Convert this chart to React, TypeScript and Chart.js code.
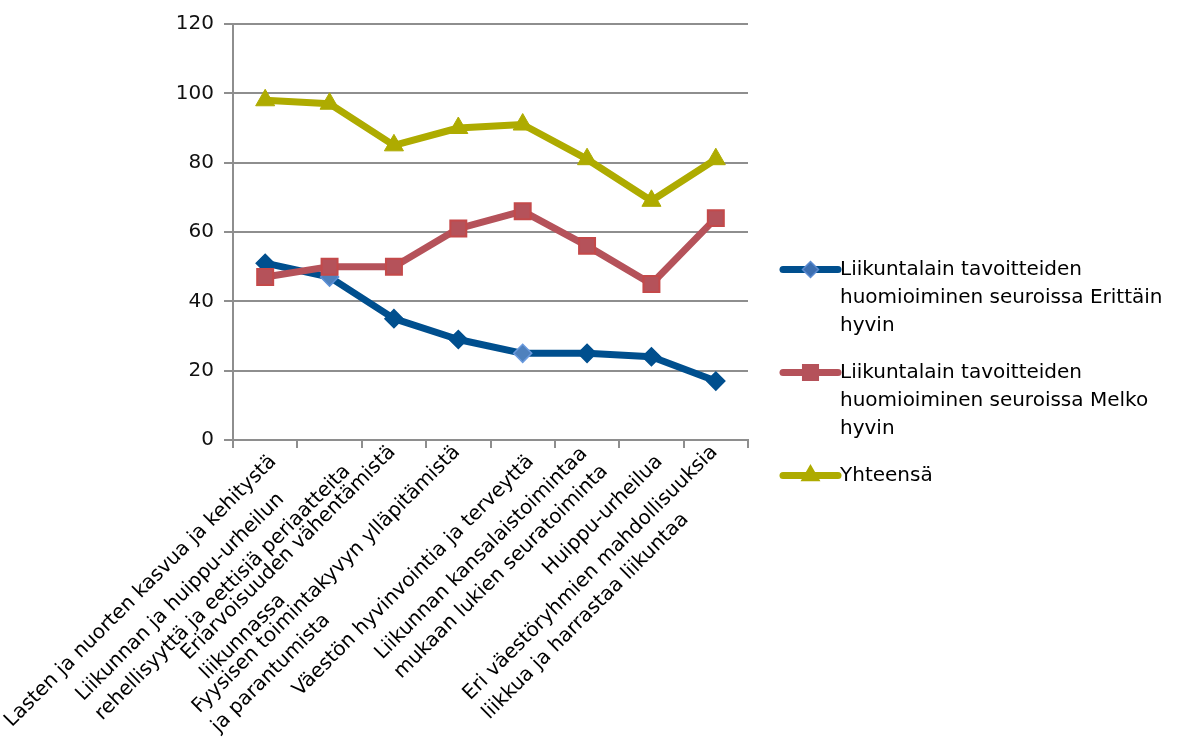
import React, { useEffect, useRef } from 'react';
import { Chart, registerables } from 'chart.js';

Chart.register(...registerables);

// Category labels, already split into the lines they are drawn on
const categories: string[][] = [
  ['Lasten ja nuorten kasvua ja kehitystä'],
  ['Liikunnan ja huippu-urheilun', 'rehellisyyttä ja eettisiä periaatteita'],
  ['Eriarvoisuuden vähentämistä', 'liikunnassa'],
  ['Fyysisen toimintakyvyn ylläpitämistä', 'ja parantumista'],
  ['Väestön hyvinvointia ja terveyttä'],
  ['Liikunnan kansalaistoimintaa', 'mukaan lukien seuratoiminta'],
  ['Huippu-urheilua'],
  ['Eri väestöryhmien mahdollisuuksia', 'liikkua ja harrastaa liikuntaa'],
];

const seriesNames = [
  'Liikuntalain tavoitteiden huomioiminen seuroissa Erittäin hyvin',
  'Liikuntalain tavoitteiden huomioiminen seuroissa Melko hyvin',
  'Yhteensä',
];

const erittainHyvin = [51, 47, 35, 29, 25, 25, 24, 17];
const melkoHyvin = [47, 50, 50, 61, 66, 56, 45, 64];
const yhteensa = [98, 97, 85, 90, 91, 81, 69, 81];

const yMin = 0;
const yMax = 120;
const yStep = 20;

const FONT = '"DejaVu Sans", "Liberation Sans", sans-serif';
const AXIS_GREY = '#8e8e8e';
const BLUE = '#004f8e';
const BLUE_LIGHT = '#4f81bd';
const RED = '#b5525a';
const RED_EDGE = '#c4494a';
const OLIVE = '#aeab00';

type Marker = 'rectRot' | 'rect' | 'triangle';

function drawMarker(
  ctx: CanvasRenderingContext2D,
  style: Marker,
  x: number,
  y: number,
  r: number,
  fill: string,
  stroke: string,
  lw: number
) {
  ctx.beginPath();
  if (style === 'rectRot') {
    ctx.moveTo(x - r, y);
    ctx.lineTo(x, y - r);
    ctx.lineTo(x + r, y);
    ctx.lineTo(x, y + r);
    ctx.closePath();
  } else if (style === 'rect') {
    const h = r * Math.SQRT1_2;
    ctx.rect(x - h, y - h, 2 * h, 2 * h);
  } else {
    ctx.moveTo(x, y - r);
    ctx.lineTo(x + r * Math.sin((2 * Math.PI) / 3), y - r * Math.cos((2 * Math.PI) / 3));
    ctx.lineTo(x + r * Math.sin((4 * Math.PI) / 3), y - r * Math.cos((4 * Math.PI) / 3));
    ctx.closePath();
  }
  ctx.fillStyle = fill;
  ctx.fill();
  ctx.lineWidth = lw;
  ctx.strokeStyle = stroke;
  ctx.stroke();
}

function wrapText(ctx: CanvasRenderingContext2D, text: string, maxW: number): string[] {
  const words = text.split(' ');
  const lines: string[] = [];
  let cur = '';
  for (const w of words) {
    const test = cur ? cur + ' ' + w : w;
    if (cur && ctx.measureText(test).width > maxW) {
      lines.push(cur);
      cur = w;
    } else {
      cur = test;
    }
  }
  if (cur) lines.push(cur);
  return lines;
}

// Category labels slanted at 45 degrees; the lines of a label share a left edge
const slantedLabels = {
  id: 'slantedLabels',
  afterDraw(chart: any) {
    const ctx: CanvasRenderingContext2D = chart.ctx;
    const xs = chart.scales.x;
    const bottom = chart.chartArea.bottom;
    const labels = chart.data.labels as string[][];
    const s = Math.SQRT1_2;
    const perp = 19;
    const along = -7.5;
    const lh = 27;
    ctx.save();
    ctx.font = `20px ${FONT}`;
    ctx.fillStyle = '#000';
    ctx.textAlign = 'left';
    ctx.textBaseline = 'middle';
    labels.forEach((lines, i) => {
      const xc = xs.getPixelForValue(i);
      const maxW = Math.max(...lines.map((l) => ctx.measureText(l).width));
      const ax = xc + s * (perp + along);
      const ay = bottom + s * (perp - along);
      ctx.save();
      ctx.translate(ax, ay);
      ctx.rotate(-Math.PI / 4);
      lines.forEach((ln, j) => {
        ctx.fillText(ln, -maxW, (j - (lines.length - 1) / 2) * lh);
      });
      ctx.restore();
    });
    ctx.restore();
  },
};

// Legend at the right of the plot, with wrapped series names
const sideLegend = {
  id: 'sideLegend',
  afterDraw(chart: any) {
    const ctx: CanvasRenderingContext2D = chart.ctx;
    const area = chart.chartArea;
    const lineStart = area.right + 35;
    const lineLen = 55;
    const textX = lineStart + lineLen + 2;
    const lh = 28;
    const gap = 19;
    ctx.save();
    ctx.font = `20px ${FONT}`;
    const maxW = chart.width - textX - 5;
    const entries = chart.data.datasets.map((ds: any) => ({
      ds,
      lines: wrapText(ctx, ds.label, maxW),
    }));
    const total =
      entries.reduce((acc: number, e: any) => acc + e.lines.length * lh, 0) +
      gap * (entries.length - 1);
    let y = chart.height / 2 - total / 2 + lh / 2 - 3;
    for (const e of entries) {
      const ds = e.ds;
      ctx.lineCap = 'round';
      ctx.lineWidth = 7;
      ctx.strokeStyle = ds.borderColor;
      ctx.beginPath();
      ctx.moveTo(lineStart, y);
      ctx.lineTo(lineStart + lineLen, y);
      ctx.stroke();
      drawMarker(
        ctx,
        ds.legendMarker.style,
        lineStart + lineLen / 2,
        y,
        ds.legendMarker.r,
        ds.legendMarker.fill,
        ds.legendMarker.stroke,
        1.5
      );
      ctx.fillStyle = '#000';
      ctx.textAlign = 'left';
      ctx.textBaseline = 'middle';
      e.lines.forEach((ln: string, j: number) => {
        ctx.fillText(ln, textX, y + j * lh);
      });
      y += e.lines.length * lh + gap;
    }
    ctx.restore();
  },
};

export default function App() {
  const canvasRef = useRef<HTMLCanvasElement | null>(null);

  useEffect(() => {
    document.body.style.margin = '0';
    const canvas = canvasRef.current;
    if (!canvas) return;

    const chart = new Chart(canvas, {
      type: 'line',
      data: {
        labels: categories as any,
        datasets: [
          {
            label: seriesNames[0],
            data: erittainHyvin,
            borderColor: BLUE,
            borderWidth: 7,
            borderJoinStyle: 'round',
            borderCapStyle: 'round',
            pointStyle: 'rectRot',
            pointRadius: 9,
            pointBorderWidth: 1.5,
            pointBackgroundColor: [BLUE, BLUE_LIGHT, BLUE, BLUE, BLUE_LIGHT, BLUE, BLUE, BLUE],
            pointBorderColor: [BLUE, '#5b8fd6', BLUE, BLUE, '#6a9ade', BLUE, BLUE, BLUE],
            order: 3,
            legendMarker: { style: 'rectRot', r: 8, fill: '#3c6eb0', stroke: '#5a8ad0' },
          } as any,
          {
            label: seriesNames[1],
            data: melkoHyvin,
            borderColor: RED,
            borderWidth: 7,
            borderJoinStyle: 'round',
            borderCapStyle: 'round',
            pointStyle: 'rect',
            pointRadius: 11.3,
            pointBorderWidth: 2,
            pointBackgroundColor: RED,
            pointBorderColor: RED_EDGE,
            order: 2,
            legendMarker: { style: 'rect', r: 11, fill: RED, stroke: RED },
          } as any,
          {
            label: seriesNames[2],
            data: yhteensa,
            borderColor: OLIVE,
            borderWidth: 7,
            borderJoinStyle: 'round',
            borderCapStyle: 'round',
            pointStyle: 'triangle',
            pointRadius: 11,
            pointBorderWidth: 1,
            pointBackgroundColor: OLIVE,
            pointBorderColor: OLIVE,
            order: 1,
            legendMarker: { style: 'triangle', r: 10, fill: OLIVE, stroke: OLIVE },
          } as any,
        ],
      },
      options: {
        responsive: false,
        animation: false,
        events: [],
        layout: { padding: { left: 0, top: 24, right: 432, bottom: 0 } },
        plugins: {
          legend: { display: false },
          tooltip: { enabled: false },
          title: { display: false },
        },
        scales: {
          x: {
            type: 'category',
            offset: true,
            grid: {
              offset: true,
              drawOnChartArea: false,
              drawTicks: true,
              tickLength: 8,
              color: AXIS_GREY,
              lineWidth: 2,
            },
            border: { display: true, color: AXIS_GREY, width: 2 },
            ticks: { display: false },
            afterFit: (scale: any) => {
              scale.height = 311;
            },
          },
          y: {
            min: yMin,
            max: yMax,
            grid: {
              color: AXIS_GREY,
              lineWidth: 2,
              drawTicks: true,
              tickLength: 9,
            },
            border: { display: true, color: AXIS_GREY, width: 2 },
            ticks: {
              stepSize: yStep,
              padding: 10,
              color: '#111',
              font: { family: FONT, size: 20 },
            },
            afterFit: (scale: any) => {
              scale.width = 233;
            },
          },
        },
      },
      plugins: [slantedLabels, sideLegend],
    });

    return () => {
      chart.destroy();
    };
  }, []);

  return (
    <div style={{ width: 1180, height: 751 }}>
      <canvas ref={canvasRef} width={1180} height={751} style={{ display: 'block' }} />
    </div>
  );
}
